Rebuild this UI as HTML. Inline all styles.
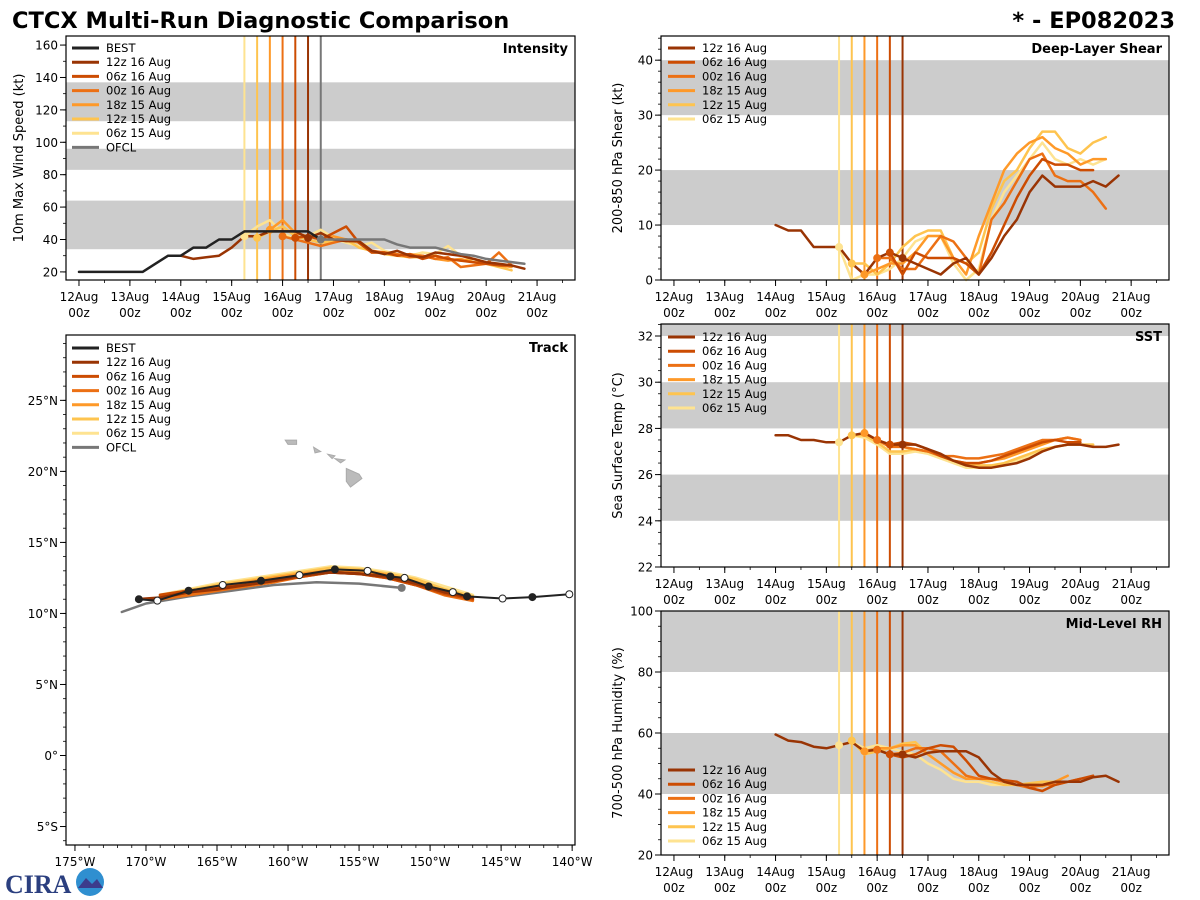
<!DOCTYPE html>
<html><head><meta charset="utf-8"><style>
body{margin:0;background:#fff;width:1200px;height:900px;overflow:hidden}
svg{display:block;font-family:"DejaVu Sans","Liberation Sans",sans-serif}
</style></head><body>
<svg id="fig" width="1200" height="900" viewBox="0 0 1200 900">
<text x="12" y="28" font-size="22.5" font-weight="bold" fill="#000">CTCX Multi-Run Diagnostic Comparison</text>
<text x="1175" y="28" font-size="22.5" font-weight="bold" text-anchor="end" fill="#000">* - EP082023</text>
<g>
<text x="5" y="893" font-size="26" font-weight="bold" fill="#2b3f7f" font-family="Liberation Serif, serif">CIRA</text>
<circle cx="90" cy="882" r="14" fill="#2f8fd0"/><path d="M78 888 L86 878 L92 884 L97 879 L103 888 Z" fill="#3c3c8c"/>
</g>
</svg>
<script>
// ---------- shared data ----------
const runLabels = ['12z 16 Aug','06z 16 Aug','00z 16 Aug','18z 15 Aug','12z 15 Aug','06z 15 Aug'];
const runColors = ['#993404','#cc4c02','#ec7014','#fe9929','#fec44f','#fee391'];
const runInit = [4.5,4.25,4.0,3.75,3.5,3.25];
const dayTickLabels = ['12Aug','13Aug','14Aug','15Aug','16Aug','17Aug','18Aug','19Aug','20Aug','21Aug'];
const ofclInit = 4.75;

// ---------- intensity ----------
const bestStart = 0;
const bestWind = [20,20,20,20,20,20,25,30,30,35,35,40,40,45,45,45,45,45,45,40];
const intStart = [2.0,4.25,4.0,3.75,3.5,3.25];
const int12z16 = [30,28,29,30,35,42,42,45,45,45,41,44,40,39,39,33,31,33,30,29,32,31,30,28,26,25,24,22];
const int06z16 = [41,42,40,44,48,38,32,32,30,31,28,30,28,27,26,25,24,24];
const int00z16 = [42,40,38,36,38,40,39,33,32,31,29,30,28,29,23,24,25,32,24];
const int18z15 = [46,52,44,42,40,42,40,38,32,32,30,31,30,28,27,28,26,25,24,23];
const int12z15 = [41,45,48,42,40,38,39,40,35,33,31,30,29,29,30,28,27,28,25,23,21];
const int06z15 = [42,48,52,44,40,42,46,41,38,36,38,33,31,30,32,31,36,30,28,26,25,24];
const ofclTimes = [4.75,5.0,5.5,5.75,6.0,6.25,6.5,7.0,7.5,7.75,8.0,8.75];
const ofclWind = [40,40,40,40,40,37,35,35,31,30,28,25];
const intInitVals = [41,41,42,46,41,42];

// ---------- shear ----------
const shrStart = [2.0,4.25,4.0,3.75,3.5,3.25];
const shr12z16 = [10,9,9,6,6,6,3,1,4,5,4,3,2,1,3,4,1,4,8,11,16,19,17,17,17,18,17,19];
const shr06z16 = [5,1,5,4,4,4,3,1,5,10,15,19,22,21,21,20,20];
const shr00z16 = [4,4,2,2,5,8,7,4,1,11,14,18,22,23,19,18,18,16,13];
const shr18z15 = [1,2,3,3,5,8,8,4,1,8,14,20,23,25,26,24,23,21,22,22];
const shr12z15 = [3,3,1,3,6,8,9,9,4,3,5,13,18,20,24,27,27,24,23,25,26];
const shr06z15 = [6,0,1,1,2,4,7,8,8,3,0,2,11,16,19,22,25,22,21,22,21,22];
const shrInitVals = [4,5,4,1,3,6];

// ---------- SST ----------
const sstStart = [2.0,4.25,4.0,3.75,3.5,3.25];
const sst12z16 = [27.7,27.7,27.5,27.5,27.4,27.4,27.7,27.8,27.5,27.3,27.3,27.3,27.1,26.9,26.6,26.4,26.3,26.3,26.4,26.5,26.7,27.0,27.2,27.3,27.3,27.2,27.2,27.3];
const sst06z16 = [27.3,27.4,27.3,27.1,26.8,26.6,26.5,26.5,26.6,26.8,27.0,27.2,27.4,27.5,27.4,27.4];
const sst00z16 = [27.5,27.2,27.2,27.1,27.0,26.8,26.8,26.7,26.7,26.8,26.9,27.1,27.3,27.5,27.5,27.6,27.5];
const sst18z15 = [27.8,27.5,27.3,27.2,27.1,27.0,26.8,26.6,26.5,26.5,26.6,26.7,26.9,27.1,27.3,27.5,27.6,27.5];
const sst12z15 = [27.7,27.7,27.4,27.0,27.0,27.1,27.0,26.8,26.6,26.4,26.4,26.4,26.5,26.7,26.9,27.1,27.2,27.3,27.3,27.3];
const sst06z15 = [27.4,27.7,27.6,27.3,26.9,26.9,27.0,26.9,26.7,26.5,26.3,26.3,26.3,26.4,26.6,26.8,27.0,27.2,27.3,27.3,27.3];
const sstInitVals = [27.3,27.3,27.5,27.8,27.7,27.4];

// ---------- RH ----------
const rhStart = [2.0,4.25,4.0,3.75,3.5,3.25];
const rh12z16 = [59.5,57.5,57,55.5,55,56,57,54,54.5,53,53,52,53.5,54,54,54,52,47,44,43,43,43,44,44,44,45.5,46,44];
const rh06z16 = [53,52,53,55,56,55.5,51,46,45,44.5,44,42,41,43,44,45,46];
const rh00z16 = [54.5,53,53.5,55,55,54,50,46,45,45,44,43,42,43,43,44,45];
const rh18z15 = [54,55,55,56,56,53,50,47,45,45,45,44,43,43,42.5,44,46];
const rh12z15 = [57.5,53,54,55,56.5,57,53,50,47,45,45,44,43,43,43.5,44,44];
const rh06z15 = [56,57,55,56,55,54,53,50,48,45,44,44,43,43,43,43,43.5];
const rhInitVals = [53,53,54.5,54,57.5,56];

// ---------- track ----------
const bestLon = [-140.2,-142.8,-144.9,-147.4,-148.4,-150.1,-151.8,-152.8,-154.4,-156.7,-159.2,-161.9,-164.6,-167,-169.2,-170.5];
const bestLat = [11.35,11.15,11.05,11.2,11.5,11.9,12.5,12.6,13.0,13.1,12.7,12.3,12.0,11.6,10.9,11.0];
const ofclLon = [-152,-155,-158,-161,-164,-167,-170,-171.7];
const ofclLat = [11.8,12.1,12.2,12.0,11.6,11.2,10.7,10.1];
const trkLon = [-147,-149,-151,-153,-155,-157,-159,-161,-163,-165,-167,-169,-170.5];
const trk12z16 = [11.1,11.5,12.1,12.6,12.8,12.9,12.7,12.3,12.0,11.7,11.5,11.1,11.0];
const trk06z16 = [11.0,11.4,12.0,12.5,12.8,12.9,12.6,12.3,12.0,11.8,11.6,11.3,null];
const trk00z16 = [10.9,11.3,12.0,12.5,12.8,12.9,12.6,12.2,11.9,11.6,11.3,11.0,null];
const trk18z15 = [11.0,11.5,12.2,12.7,13.0,13.0,12.8,12.5,12.2,11.8,11.4,11.1,null];
const trk12z15 = [11.2,11.7,12.4,12.8,13.1,13.2,12.9,12.6,12.3,12.0,11.6,11.2,null];
const trk06z15 = [11.3,11.9,12.5,12.9,13.2,13.3,13.0,12.7,12.4,12.1,11.7,11.3,null];

// ---------- drawing ----------
const NS='http://www.w3.org/2000/svg';
const fig=document.getElementById('fig');
function el(tag,attrs,parent){const e=document.createElementNS(NS,tag);for(const k in attrs)e.setAttribute(k,attrs[k]);(parent||fig).appendChild(e);return e;}
function txt(s,attrs,parent){const e=el('text',attrs,parent);e.textContent=s;return e;}

function makePanel(o){
  const g=el('g',{});
  
  
  const sx=v=>o.x0+(v-o.xmin)/(o.xmax-o.xmin)*(o.x1-o.x0);
  const sy=v=>o.y1-(v-o.ymin)/(o.ymax-o.ymin)*(o.y1-o.y0);
  el('rect',{x:o.x0,y:o.y0,width:o.x1-o.x0,height:o.y1-o.y0,fill:'#fff'},g);
  (o.bands||[]).forEach(b=>{const a=Math.max(b[0],o.ymin),c=Math.min(b[1],o.ymax);
    const r=el('rect',{x:o.x0,y:sy(c),width:o.x1-o.x0,height:sy(a)-sy(c),fill:'#cccccc'},g);
    
    });
  const plot=el('g',{},g);
  el('rect',{x:o.x0,y:o.y0,width:o.x1-o.x0,height:o.y1-o.y0,fill:'none',stroke:'#000','stroke-width':1.2},g);
  for(let v=o.ymin0;v<=o.ymax+1e-9;v+=o.yminor){const y=sy(v);if(y<o.y0-0.5||y>o.y1+0.5)continue;
    el('line',{x1:o.x0,x2:o.x0-3,y1:y,y2:y,stroke:'#000','stroke-width':0.8},g);}
  o.yticks.forEach((v,i)=>{const y=sy(v);el('line',{x1:o.x0,x2:o.x0-6,y1:y,y2:y,stroke:'#000','stroke-width':1},g);
    const t=txt(o.ylabels[i],{x:o.x0-8,y:y+4.5,'font-size':12,'text-anchor':'end'},g);
    
    });
  for(let v=o.xminor0;v<=o.xmax;v+=o.xminor){const x=sx(v);if(x<o.x0)continue;
    el('line',{x1:x,x2:x,y1:o.y1,y2:o.y1+3,stroke:'#000','stroke-width':0.8},g);}
  o.xticks.forEach((v,i)=>{const x=sx(v);el('line',{x1:x,x2:x,y1:o.y1,y2:o.y1+6,stroke:'#000','stroke-width':1},g);
    if(o.xlabels){const t=txt(o.xlabels[i],{x:x,y:o.y1+21,'font-size':12,'text-anchor':'middle'},g);
      
      
      if(o.xlabels2){const t2=txt(o.xlabels2,{x:x,y:o.y1+37,'font-size':12,'text-anchor':'middle'},g);
      
      }}});
  const yl=txt(o.ytitle,{transform:`translate(${o.ytx},${(o.y0+o.y1)/2}) rotate(-90)`,'font-size':13,'text-anchor':'middle'},g);
  
  
  const pt=txt(o.title,{x:o.x1-7,y:o.y0+17,'font-size':13,'font-weight':'bold','text-anchor':'end'},g);
  
  
  return {g,plot,sx,sy,o};
}
function polyline(p,xs,ys,color,w,name){
  const pts=[];xs.forEach((x,i)=>{if(ys[i]!==null&&ys[i]!==undefined)pts.push(p.sx(x).toFixed(1)+','+p.sy(ys[i]).toFixed(1));});
  const l=el('polyline',{points:pts.join(' '),fill:'none',stroke:color,'stroke-width':w,'stroke-linejoin':'round','stroke-linecap':'round'},p.plot);
  
  
  return l;
}
function times(start,n){const a=[];for(let i=0;i<n;i++)a.push(start+0.25*i);return a;}
function vlines(p,inits,colors,extra){
  inits.forEach((t,i)=>{const l=el('line',{x1:p.sx(t),x2:p.sx(t),y1:p.o.y0,y2:p.o.y1,stroke:colors[i],'stroke-width':2},p.plot);
    
    });
  if(extra){const l=el('line',{x1:p.sx(extra),x2:p.sx(extra),y1:p.o.y0,y2:p.o.y1,stroke:'#777','stroke-width':2},p.plot);
    
    }
}
function legend(p,x,y,items){
  const g=el('g',{},p.g);
  
  
  items.forEach((it,i)=>{const yy=y+i*14.2;
    el('line',{x1:x,x2:x+27,y1:yy,y2:yy,stroke:it[1],'stroke-width':3},g);
    const t=txt(it[0],{x:x+34,y:yy+4,'font-size':11.5},g);
    
    });
}
function marker(p,x,y,color,r,stroke){const c=el('circle',{cx:p.sx(x),cy:p.sy(y),r:r||4,fill:color,stroke:stroke||'none','stroke-width':1},p.plot);
  
  }

const dayTicks=[0,1,2,3,4,5,6,7,8,9];
const runLegend=runLabels.map((l,i)=>[l,runColors[i]]);
function timePanel(name,title,ytitle,y0,y1,ymin,ymax,ymin0,yticks,yminor,bands,xlabelsOn,x0,x1,ytx){
  return makePanel({name,title,ytitle,x0,x1,y0,y1,xmin:-0.255,xmax:9.745,ymin,ymax,ymin0,yticks,ylabels:yticks.map(String),yminor,bands,
    xticks:dayTicks,xlabels:xlabelsOn?dayTickLabels:null,xlabels2:'00z',xminor:0.5,xminor0:0.5,ytx});
}
function drawRuns(p,starts,series,initVals,w){
  for(let i=series.length-1;i>=0;i--){
    polyline(p,times(starts[i],series[i].length),series[i],runColors[i],w||2.5,'series-'+runLabels[i].replace(/ /g,'-').toLowerCase());
  }
  runInit.forEach((t,i)=>marker(p,t,initVals[i],runColors[i]));
}

// Intensity
const pI=timePanel('intensity-panel','Intensity','10m Max Wind Speed (kt)',36,280,15,165.6,20,[20,40,60,80,100,120,140,160],10,[[34,64],[83,96],[113,137]],true,66,575,23);
vlines(pI,runInit,runColors,ofclInit);
drawRuns(pI,intStart,[int12z16,int06z16,int00z16,int18z15,int12z15,int06z15],intInitVals);
polyline(pI,times(bestStart,bestWind.length),bestWind,'#222',2.5,'best-intensity');
polyline(pI,ofclTimes,ofclWind,'#777',2.5,'ofcl-intensity');
marker(pI,ofclInit,ofclWind[0],'#777');
legend(pI,72,48,[['BEST','#222']].concat(runLegend,[['OFCL','#777']]));

// Shear
const pS=timePanel('shear-panel','Deep-Layer Shear','200-850 hPa Shear (kt)',36,280,0,44.4,0,[0,10,20,30,40],2,[[10,20],[30,40]],true,661,1169,622);
vlines(pS,runInit,runColors);
drawRuns(pS,shrStart,[shr12z16,shr06z16,shr00z16,shr18z15,shr12z15,shr06z15],shrInitVals);
legend(pS,668,48,runLegend);

// SST
const pT=timePanel('sst-panel','SST','Sea Surface Temp (°C)',324,567,22,32.52,22,[22,24,26,28,30,32],0.5,[[24,26],[28,30],[32,33]],true,661,1169,622);
vlines(pT,runInit,runColors);
drawRuns(pT,sstStart,[sst12z16,sst06z16,sst00z16,sst18z15,sst12z15,sst06z15],sstInitVals);
legend(pT,668,337,runLegend);

// RH
const pR=timePanel('rh-panel','Mid-Level RH','700-500 hPa Humidity (%)',611,855,20,100,20,[20,40,60,80,100],5,[[40,60],[80,100]],true,661,1169,622);
vlines(pR,runInit,runColors);
drawRuns(pR,rhStart,[rh12z16,rh06z16,rh00z16,rh18z15,rh12z15,rh06z15],rhInitVals);
legend(pR,668,770,runLegend);

// Track
const latTicks=[-5,0,5,10,15,20,25];
const lonTicks=[-175,-170,-165,-160,-155,-150,-145,-140];
const pK=makePanel({name:'track-panel',title:'Track',ytitle:'',x0:66,x1:575,y0:335,y1:845,xmin:-175.63,xmax:-139.8,ymin:-6.3,ymax:29.6,ymin0:-6,
  yticks:latTicks,ylabels:latTicks.map(v=>v<0?(-v)+'°S':v===0?'0°':v+'°N'),yminor:1,
  xticks:lonTicks,xlabels:lonTicks.map(v=>(-v)+'°W'),xminor:1,xminor0:-175,ytx:20});
[[[-160.2,22.2],[-159.4,22.2],[-159.4,21.9],[-160.0,21.9]],[[-158.2,21.7],[-157.7,21.4],[-158.1,21.3]],[[-157.2,21.2],[-156.7,21.1],[-156.9,20.9]],
 [[-156.7,20.9],[-156.0,20.8],[-156.3,20.6]],[[-155.9,20.2],[-155.0,19.8],[-154.8,19.5],[-155.6,18.9],[-155.9,19.3]]].forEach(poly=>{
  const p=el('polygon',{points:poly.map(q=>pK.sx(q[0]).toFixed(1)+','+pK.sy(q[1]).toFixed(1)).join(' '),fill:'#bbb',stroke:'#aaa','stroke-width':1},pK.plot);
  
  });
polyline(pK,ofclLon,ofclLat,'#777',2.5,'ofcl-track');
const trks=[trk12z16,trk06z16,trk00z16,trk18z15,trk12z15,trk06z15];
for(let i=trks.length-1;i>=0;i--)polyline(pK,trkLon,trks[i],runColors[i],3,'track-'+runLabels[i].replace(/ /g,'-').toLowerCase());
polyline(pK,bestLon,bestLat,'#222',2,'best-track');
bestLon.forEach((x,i)=>marker(pK,x,bestLat[i],i%2?'#222':'#fff',3.5,'#222'));
marker(pK,ofclLon[0],ofclLat[0],'#777');
legend(pK,72,348,[['BEST','#222']].concat(runLegend,[['OFCL','#777']]));
</script>
</body></html>
